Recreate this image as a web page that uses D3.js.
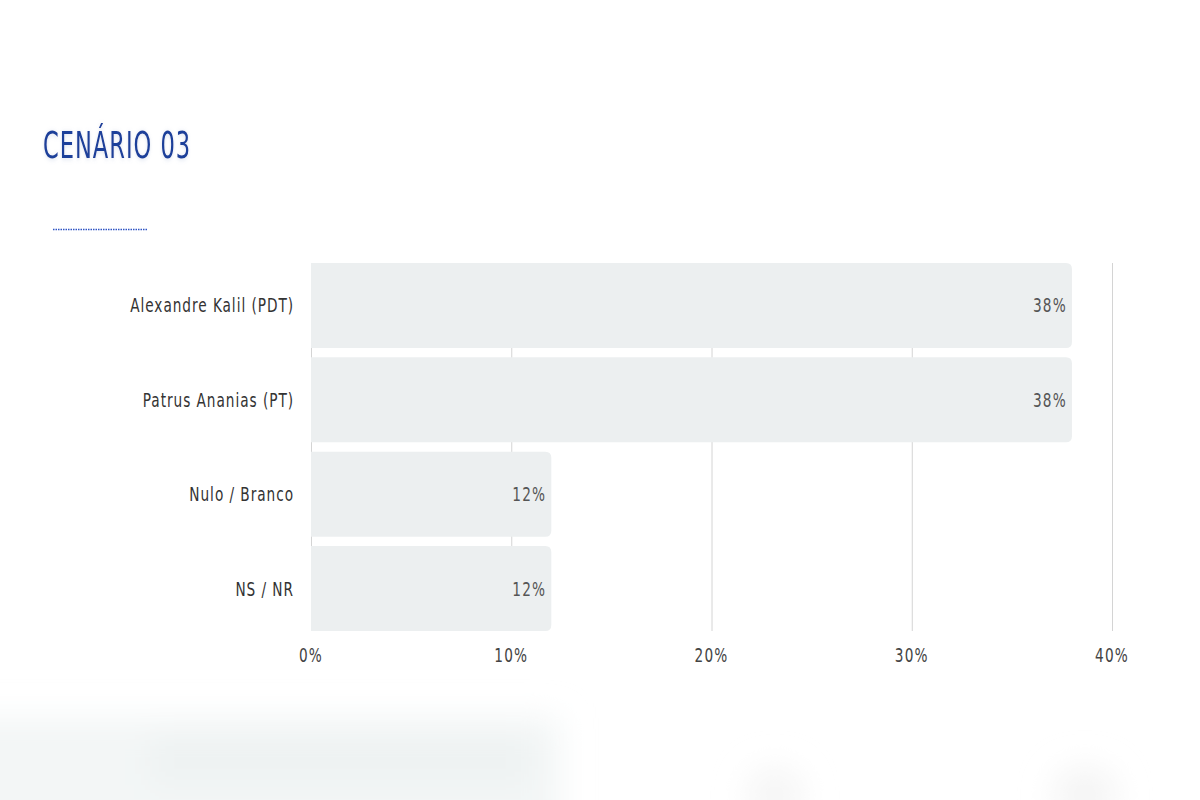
<!DOCTYPE html>
<html><head><meta charset="utf-8">
<script src="https://cdn.jsdelivr.net/npm/d3@7"></script>
<style>
html,body{margin:0;padding:0;background:#fff;}
svg{display:block;}
text{font-family:"DejaVu Sans Condensed","DejaVu Sans",sans-serif;font-stretch:condensed;}
</style></head>
<body>
<script>
const title = "CENÁRIO 03";
const categories = ["Alexandre Kalil (PDT)", "Patrus Ananias (PT)", "Nulo / Branco", "NS / NR"];
const values = [38, 38, 12, 12];
const tickValues = [0, 10, 20, 30, 40];

const W = 1200, H = 800;
const svg = d3.select("body").append("svg").attr("width", W).attr("height", H);
const defs = svg.append("defs");
const blur = defs.append("filter").attr("id","blur").attr("x","-50%").attr("y","-50%").attr("width","200%").attr("height","200%");
blur.append("feGaussianBlur").attr("stdDeviation", 16);
const sh = defs.append("filter").attr("id","tshadow").attr("x","-10%").attr("y","-30%").attr("width","120%").attr("height","160%");
sh.append("feDropShadow").attr("dx",0).attr("dy",1).attr("stdDeviation",2.5).attr("flood-color","#8aa0cc").attr("flood-opacity",0.35);

// blurred background at bottom
const bg = svg.append("g").attr("filter","url(#blur)");
bg.append("rect").attr("x",-40).attr("y",718).attr("width",600).attr("height",120).attr("fill","#f3f6f6");
bg.append("rect").attr("x",150).attr("y",735).attr("width",380).attr("height",50).attr("fill","#eef2f2");
bg.append("ellipse").attr("cx",775).attr("cy",795).attr("rx",28).attr("ry",28).attr("fill","#f5f5f5");
bg.append("ellipse").attr("cx",1085).attr("cy",795).attr("rx",32).attr("ry",28).attr("fill","#f4f4f4");

// title
svg.append("text").attr("transform","translate(43,158) scale(0.66,1)").attr("fill","#1d3f9a")
  .attr("font-size",38).attr("letter-spacing",1.5).attr("filter","url(#tshadow)")
  .style("font-weight",300)
  .text(title);
svg.append("line").attr("x1",53).attr("x2",147).attr("y1",229.5).attr("y2",229.5)
  .attr("stroke","#2f55c4").attr("stroke-width",1.5).attr("stroke-dasharray","1.5,1");

const x = d3.scaleLinear().domain([0,40]).range([311,1112]);
const y = d3.scaleBand().domain(categories).range([263,631]).paddingInner(0.1).paddingOuter(0);

// gridlines
svg.append("g").selectAll("line").data(tickValues).join("line")
  .attr("x1", d=>x(d)+0.5).attr("x2", d=>x(d)+0.5)
  .attr("y1", 263).attr("y2", 631)
  .attr("stroke", "#d4d4d4").attr("stroke-width",1);

// bars with right-rounded corners
const r = 6;
function barPath(x0, x1, y0, h){
  return `M${x0},${y0}H${x1-r}Q${x1},${y0} ${x1},${y0+r}V${y0+h-r}Q${x1},${y0+h} ${x1-r},${y0+h}H${x0}Z`;
}
svg.append("g").selectAll("path").data(categories).join("path")
  .attr("d", (c,i)=>barPath(x(0), x(values[i]), y(c), y.bandwidth()))
  .attr("fill","#eceff0");

// value labels
svg.append("g").selectAll("text").data(categories).join("text")
  .attr("transform",(c,i)=>`translate(${x(values[i])-5},${y(c)+y.bandwidth()/2+7}) scale(0.8,1)`)
  .attr("text-anchor","end").attr("fill","#555").attr("font-size",19)
  .attr("letter-spacing",1.5).style("font-weight",300)
  .text((c,i)=>values[i]+"%");

// category labels
svg.append("g").selectAll("text").data(categories).join("text")
  .attr("transform",c=>`translate(294,${y(c)+y.bandwidth()/2+7}) scale(0.8,1)`)
  .attr("text-anchor","end").attr("fill","#333").attr("font-size",19)
  .attr("letter-spacing",1.2).style("font-weight",300)
  .text(c=>c);

// x axis tick labels
const axis = d3.axisBottom(x).tickValues(tickValues).tickFormat(d=>d+"%").tickSize(0);
const ga = svg.append("g").attr("transform","translate(0,642)").call(axis);
ga.select(".domain").remove();
ga.selectAll("text").attr("font-size",19).attr("fill","#444").attr("letter-spacing",1.5)
  .attr("font-family","'DejaVu Sans Mono',monospace").attr("dy","0.9em")
  .attr("transform","scale(0.8,1)").attr("x",0);
ga.selectAll(".tick").attr("transform", d=>`translate(${x(d)},0)`);
</script>
</body></html>
